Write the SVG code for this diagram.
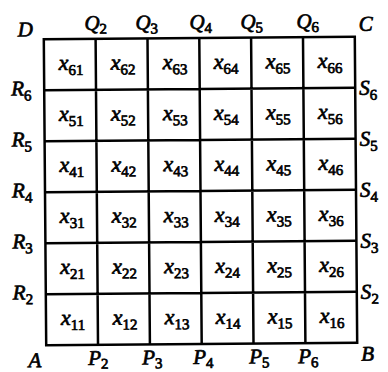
<svg xmlns="http://www.w3.org/2000/svg" width="388" height="372" viewBox="0 0 388 372">
<style>
text{font-family:"Liberation Serif","Times New Roman",serif;font-style:italic;fill:#000;stroke:#000;stroke-width:0.7}
.x{font-size:22px;text-anchor:middle}
.l{font-size:21px}
.m{text-anchor:middle}
.s{font-size:15px;font-style:normal}
.g{fill:none;stroke:#000;stroke-width:2.5}
</style>
<rect width="388" height="372" fill="#fff"/>
<g transform="rotate(-0.45 200 191)">
<g id="grid">
<rect class="g" x="45" y="38" width="311" height="306" stroke-width="2.9"/>
<path class="g" d="M96.8 38V344M148.7 38V344M200.5 38V344M252.3 38V344M304.2 38V344M45 89H356M45 140H356M45 191H356M45 242H356M45 293H356"/>
</g>
<g id="cells">
<g id="r6"><text class="x" x="72" y="69">x<tspan class="s" dy="5">61</tspan></text><text class="x" x="124" y="69">x<tspan class="s" dy="5">62</tspan></text><text class="x" x="176" y="69">x<tspan class="s" dy="5">63</tspan></text><text class="x" x="227" y="69">x<tspan class="s" dy="5">64</tspan></text><text class="x" x="279" y="69">x<tspan class="s" dy="5">65</tspan></text><text class="x" x="331" y="69">x<tspan class="s" dy="5">66</tspan></text></g>
<g id="r5"><text class="x" x="72" y="120">x<tspan class="s" dy="5">51</tspan></text><text class="x" x="124" y="120">x<tspan class="s" dy="5">52</tspan></text><text class="x" x="176" y="120">x<tspan class="s" dy="5">53</tspan></text><text class="x" x="227" y="120">x<tspan class="s" dy="5">54</tspan></text><text class="x" x="279" y="120">x<tspan class="s" dy="5">55</tspan></text><text class="x" x="331" y="120">x<tspan class="s" dy="5">56</tspan></text></g>
<g id="r4"><text class="x" x="72" y="171">x<tspan class="s" dy="5">41</tspan></text><text class="x" x="124" y="171">x<tspan class="s" dy="5">42</tspan></text><text class="x" x="176" y="171">x<tspan class="s" dy="5">43</tspan></text><text class="x" x="227" y="171">x<tspan class="s" dy="5">44</tspan></text><text class="x" x="279" y="171">x<tspan class="s" dy="5">45</tspan></text><text class="x" x="331" y="171">x<tspan class="s" dy="5">46</tspan></text></g>
<g id="r3"><text class="x" x="72" y="222">x<tspan class="s" dy="5">31</tspan></text><text class="x" x="124" y="222">x<tspan class="s" dy="5">32</tspan></text><text class="x" x="176" y="222">x<tspan class="s" dy="5">33</tspan></text><text class="x" x="227" y="222">x<tspan class="s" dy="5">34</tspan></text><text class="x" x="279" y="222">x<tspan class="s" dy="5">35</tspan></text><text class="x" x="331" y="222">x<tspan class="s" dy="5">36</tspan></text></g>
<g id="r2"><text class="x" x="72" y="273">x<tspan class="s" dy="5">21</tspan></text><text class="x" x="124" y="273">x<tspan class="s" dy="5">22</tspan></text><text class="x" x="176" y="273">x<tspan class="s" dy="5">23</tspan></text><text class="x" x="227" y="273">x<tspan class="s" dy="5">24</tspan></text><text class="x" x="279" y="273">x<tspan class="s" dy="5">25</tspan></text><text class="x" x="331" y="273">x<tspan class="s" dy="5">26</tspan></text></g>
<g id="r1"><text class="x" x="72" y="324">x<tspan class="s" dy="5">11</tspan></text><text class="x" x="124" y="324">x<tspan class="s" dy="5">12</tspan></text><text class="x" x="176" y="324">x<tspan class="s" dy="5">13</tspan></text><text class="x" x="227" y="324">x<tspan class="s" dy="5">14</tspan></text><text class="x" x="279" y="324">x<tspan class="s" dy="5">15</tspan></text><text class="x" x="331" y="324">x<tspan class="s" dy="5">16</tspan></text></g>
</g>
<g id="labels">
<text class="l" x="19" y="35">D</text>
<text class="l" x="360" y="32">C</text>
<text class="l" x="27" y="366">A</text>
<text class="l" x="360" y="362">B</text>
<text class="l m" x="97" y="29">Q<tspan class="s" dy="4">2</tspan></text>
<text class="l m" x="148" y="29">Q<tspan class="s" dy="4">3</tspan></text>
<text class="l m" x="202" y="29">Q<tspan class="s" dy="4">4</tspan></text>
<text class="l m" x="253" y="29">Q<tspan class="s" dy="4">5</tspan></text>
<text class="l m" x="309" y="29">Q<tspan class="s" dy="4">6</tspan></text>
<text class="l" x="12" y="94">R<tspan class="s" dy="5">6</tspan></text>
<text class="l" x="12" y="145">R<tspan class="s" dy="5">5</tspan></text>
<text class="l" x="12" y="196">R<tspan class="s" dy="5">4</tspan></text>
<text class="l" x="12" y="247">R<tspan class="s" dy="5">3</tspan></text>
<text class="l" x="12" y="298">R<tspan class="s" dy="5">2</tspan></text>
<text class="l" x="360" y="96">S<tspan class="s" dy="5">6</tspan></text>
<text class="l" x="360" y="147">S<tspan class="s" dy="5">5</tspan></text>
<text class="l" x="360" y="198">S<tspan class="s" dy="5">4</tspan></text>
<text class="l" x="360" y="249">S<tspan class="s" dy="5">3</tspan></text>
<text class="l" x="360" y="300">S<tspan class="s" dy="5">2</tspan></text>
<text class="l m" x="97" y="364">P<tspan class="s" dy="4">2</tspan></text>
<text class="l m" x="151" y="364">P<tspan class="s" dy="4">3</tspan></text>
<text class="l m" x="202" y="364">P<tspan class="s" dy="4">4</tspan></text>
<text class="l m" x="258" y="364">P<tspan class="s" dy="4">5</tspan></text>
<text class="l m" x="307" y="364">P<tspan class="s" dy="4">6</tspan></text>
</g>
</g>
</svg>
